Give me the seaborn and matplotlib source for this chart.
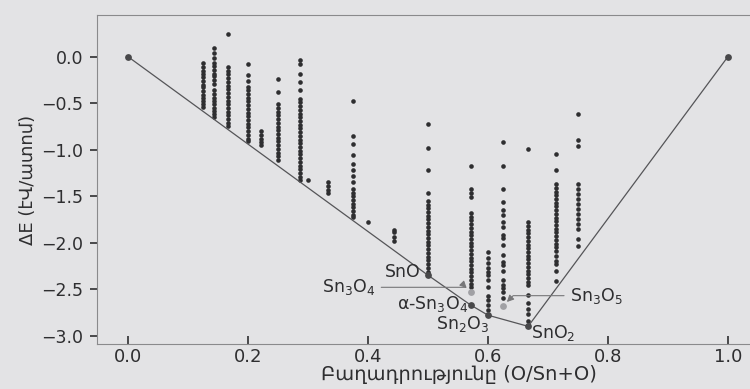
import matplotlib
matplotlib.use('Agg')
import pandas as pd
import matplotlib.pyplot as plt
import seaborn as sns

# Composition O/(Sn+O) of each column of computed structures
col_x = [0.125, 0.143, 0.167, 0.2, 0.222, 0.25, 0.286, 0.3, 0.333, 0.375,
         0.4, 0.444, 0.5, 0.571, 0.6, 0.625, 0.667, 0.714, 0.75]

# Formation energies (eV/atom), one list per column
col_e = [
    [-0.07, -0.11, -0.15, -0.19, -0.22, -0.26, -0.30, -0.33, -0.37, -0.41, -0.44, -0.48, -0.51, -0.54],
    [0.09, 0.04, -0.01, -0.07, -0.10, -0.14, -0.18, -0.21, -0.25, -0.29, -0.36, -0.40, -0.44, -0.47,
     -0.51, -0.55, -0.58, -0.62, -0.65],
    [0.25, -0.11, -0.15, -0.19, -0.23, -0.27, -0.31, -0.35, -0.39, -0.43, -0.47, -0.51, -0.55, -0.59,
     -0.63, -0.67, -0.71, -0.74],
    [-0.08, -0.20, -0.26, -0.32, -0.36, -0.40, -0.44, -0.48, -0.52, -0.56, -0.60, -0.64, -0.68, -0.72,
     -0.76, -0.80, -0.84, -0.88, -0.91],
    [-0.80, -0.84, -0.88, -0.92, -0.95],
    [-0.24, -0.38, -0.51, -0.55, -0.59, -0.63, -0.67, -0.71, -0.75, -0.79, -0.83, -0.87, -0.91, -0.95,
     -0.99, -1.03, -1.07, -1.11],
    [-0.03, -0.08, -0.18, -0.27, -0.36, -0.45, -0.49, -0.53, -0.57, -0.61, -0.65, -0.69, -0.73, -0.77,
     -0.81, -0.85, -0.89, -0.93, -0.97, -1.01, -1.05, -1.09, -1.13, -1.17, -1.21, -1.25, -1.29, -1.33],
    [-1.32],
    [-1.35, -1.39, -1.43, -1.47],
    [-0.47, -0.85, -0.94, -1.06, -1.15, -1.22, -1.28, -1.35, -1.42, -1.46, -1.50, -1.54, -1.58, -1.62,
     -1.66, -1.70, -1.72],
    [-1.78],
    [-1.86, -1.89, -1.94, -1.98],
    [-0.72, -0.98, -1.22, -1.46, -1.55, -1.59, -1.63, -1.67, -1.71, -1.75, -1.79, -1.83, -1.87, -1.91,
     -1.95, -1.99, -2.03, -2.07, -2.11, -2.15, -2.19, -2.23, -2.27, -2.31],
    [-1.17, -1.42, -1.46, -1.51, -1.68, -1.72, -1.76, -1.80, -1.84, -1.88, -1.92, -1.96, -2.00, -2.04,
     -2.08, -2.12, -2.16, -2.20, -2.24, -2.28, -2.32, -2.36, -2.40, -2.44, -2.48],
    [-2.10, -2.17, -2.22, -2.27, -2.32, -2.35, -2.40, -2.48, -2.57, -2.62, -2.67, -2.72],
    [-0.92, -1.17, -1.42, -1.56, -1.65, -1.70, -1.78, -1.83, -1.92, -1.95, -2.03, -2.13, -2.21, -2.24,
     -2.30, -2.40, -2.46, -2.49, -2.53, -2.60],
    [-0.99, -1.78, -1.82, -1.86, -1.90, -1.94, -1.98, -2.02, -2.06, -2.10, -2.14, -2.18, -2.22, -2.26,
     -2.30, -2.34, -2.38, -2.42, -2.46, -2.56, -2.65, -2.71, -2.77, -2.84],
    [-1.05, -1.22, -1.37, -1.41, -1.45, -1.49, -1.53, -1.57, -1.61, -1.65, -1.69, -1.73, -1.77, -1.81,
     -1.85, -1.89, -1.93, -1.97, -2.01, -2.05, -2.09, -2.14, -2.20, -2.23, -2.30, -2.41],
    [-0.61, -0.89, -0.96, -1.37, -1.42, -1.48, -1.53, -1.58, -1.64, -1.69, -1.74, -1.80, -1.85, -1.96, -2.04],
]

# Convex hull (stable phases)
hull_x = [0.0, 0.5, 0.571, 0.6, 0.667, 1.0]
hull_e = [0.0, -2.35, -2.67, -2.78, -2.90, 0.0]

# Metastable phases pointed at with arrows
meta_x = [0.571, 0.625]
meta_e = [-2.53, -2.68]

x_ticks = [0.0, 0.2, 0.4, 0.6, 0.8, 1.0]
y_ticks = [0.0, -0.5, -1.0, -1.5, -2.0, -2.5, -3.0]

# long table of all computed structures
df = pd.DataFrame({
    'x': [x for x, es in zip(col_x, col_e) for _ in es],
    'e': [e for es in col_e for e in es],
})
hull = pd.DataFrame({'x': hull_x, 'e': hull_e})
meta = pd.DataFrame({'x': meta_x, 'e': meta_e})

sns.set_theme(style='ticks')
plt.rcParams['font.family'] = ['DejaVu Sans']
paper = '#e3e3e5'
ink = '#2e2e30'

fig = plt.figure(figsize=(7.5, 3.89), dpi=100, facecolor=paper)
ax = fig.add_axes([97 / 750, 45 / 389, 653 / 750, 329 / 389], facecolor=paper)

sns.lineplot(data=hull, x='x', y='e', sort=False, estimator=None, color='#555558', lw=0.9, ax=ax)
sns.scatterplot(data=df, x='x', y='e', color=ink, s=11, linewidth=0, ax=ax)
sns.scatterplot(data=hull, x='x', y='e', color='#48484a', s=24, linewidth=0, ax=ax, zorder=4)
sns.scatterplot(data=meta, x='x', y='e', color='#a0a0a4', s=24, linewidth=0, ax=ax, zorder=4)

# labels of the phases
fs = 12.5
lab_kw = dict(fontsize=fs, color=ink)
ax.text(hull_x[1] - 0.012, hull_e[1] + 0.03, 'SnO', ha='right', va='center', **lab_kw)
ax.text(hull_x[2] - 0.005, hull_e[2] + 0.01, 'α-Sn$_3$O$_4$', ha='right', va='center', **lab_kw)
ax.text(hull_x[3] - 0.042, hull_e[3] - 0.09, 'Sn$_2$O$_3$', ha='center', va='center', **lab_kw)
ax.text(hull_x[4] + 0.004, hull_e[4] - 0.07, 'SnO$_2$', ha='left', va='center', **lab_kw)

arr = dict(arrowstyle='-|>', color='#777779', lw=0.8, shrinkA=2, shrinkB=4, mutation_scale=10)
ax.annotate('Sn$_3$O$_4$', xy=(meta_x[0], meta_e[0]), xytext=(0.323, -2.48),
            ha='left', va='center', **lab_kw,
            arrowprops=dict(connectionstyle='angle,angleA=0,angleB=-45,rad=0', **arr))
ax.annotate('Sn$_3$O$_5$', xy=(meta_x[1], meta_e[1]), xytext=(0.737, -2.57),
            ha='left', va='center', **lab_kw,
            arrowprops=dict(connectionstyle='angle,angleA=0,angleB=45,rad=0', **arr))

ax.set_xlim(-0.052, 1.037)
ax.set_ylim(-3.09, 0.45)
ax.set_xticks(x_ticks)
ax.set_yticks(y_ticks)
ax.set_xticklabels([f'{t:.1f}' for t in x_ticks])
ax.set_yticklabels([f'{t:.1f}'.replace('-', '\u2212') for t in y_ticks])
ax.tick_params(axis='x', direction='in', length=6, width=1.2, color=ink, labelsize=13, pad=3, labelcolor=ink)
ax.tick_params(axis='y', direction='out', length=5, width=1.2, color=ink, labelsize=12.5, pad=5, labelcolor=ink)
for side in ['left', 'bottom', 'top']:
    ax.spines[side].set_color('#8a8a8c')
    ax.spines[side].set_linewidth(0.8)
ax.spines['right'].set_visible(False)

ax.set_xlabel('Բաղադրությունը (O/Sn+O)', fontsize=14, color=ink, labelpad=-1, x=0.554)
ax.set_ylabel('ΔE (էՎ/ատոմ)', fontsize=13, color=ink, labelpad=3)

fig.savefig('out.png', dpi=100, facecolor=paper)
